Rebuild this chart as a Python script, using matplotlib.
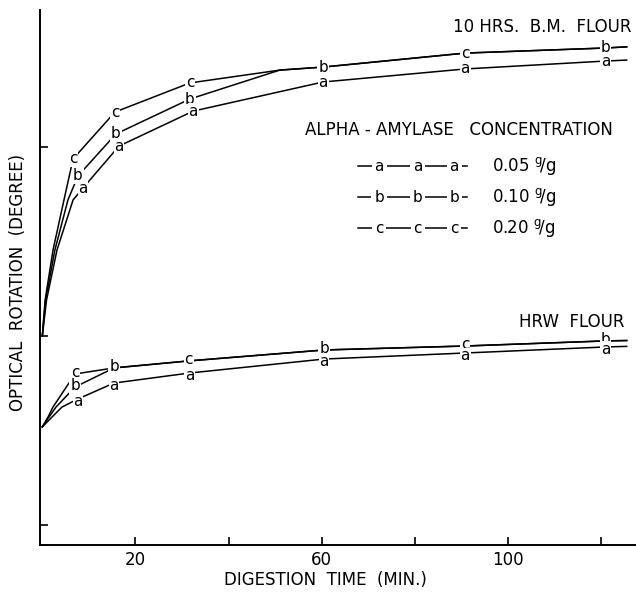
import matplotlib
matplotlib.use('Agg')
import matplotlib.pyplot as plt

# digestion time (min) and optical rotation (arbitrary degree units)
# upper group: 10 HRS. B.M. FLOUR
bm_c_t = [0, 0.6, 2.3, 4.65, 6.6, 15.6, 31.7, 51, 60.3, 90.8, 121, 125.5]
bm_c_y = [1.0, 1.19, 1.455, 1.72, 1.937, 2.185, 2.339, 2.407, 2.423, 2.497, 2.524, 2.53]
bm_c_lab = ['', '', '', '', 'c', 'c', 'c', '', '', 'c', '', '']

bm_b_t = [0, 0.7, 2.7, 5.5, 7.66, 15.8, 31.7, 51, 60.3, 90.8, 121, 125.5]
bm_b_y = [1.0, 1.19, 1.455, 1.72, 1.847, 2.069, 2.254, 2.407, 2.423, 2.497, 2.524, 2.53]
bm_b_lab = ['', '', '', '', 'b', 'b', 'b', '', 'b', '', 'b', '']

bm_a_t = [0, 0.9, 3.15, 6.6, 8.74, 16.47, 32.4, 60.3, 90.8, 121, 125.5]
bm_a_y = [1.0, 1.19, 1.455, 1.72, 1.783, 2.005, 2.190, 2.344, 2.413, 2.455, 2.46]
bm_a_lab = ['', '', '', '', 'a', 'a', 'a', 'a', 'a', 'a', '']

# lower group: HRW FLOUR
hrw_c_t = [0, 1.22, 2.29, 7.02, 15.4, 31.4, 60.5, 90.8, 121, 125.5]
hrw_c_y = [0.519, 0.571, 0.624, 0.799, 0.831, 0.868, 0.926, 0.947, 0.974, 0.976]
hrw_c_lab = ['', '', '', 'c', '', 'c', '', 'c', '', '']

hrw_b_t = [0, 1.43, 2.94, 7.02, 15.4, 31.4, 60.5, 90.8, 121, 125.5]
hrw_b_y = [0.519, 0.571, 0.624, 0.730, 0.831, 0.868, 0.926, 0.947, 0.974, 0.976]
hrw_b_lab = ['', '', '', 'b', 'b', '', 'b', '', 'b', '']

hrw_a_t = [0, 2.08, 4.22, 7.66, 15.4, 31.6, 60.5, 90.8, 121, 125.5]
hrw_a_y = [0.519, 0.571, 0.624, 0.667, 0.751, 0.804, 0.878, 0.910, 0.942, 0.945]
hrw_a_lab = ['', '', '', 'a', 'a', 'a', 'a', 'a', 'a', '']

x_ticks = [20, 40, 60, 80, 100, 120]
x_tick_labels = ['20', '', '60', '', '100', '']
y_ticks = [0, 1, 2]

concentrations = ['0.05', '0.10', '0.20']
legend_letters = ['a', 'b', 'c']

fig = plt.figure(figsize=(6.36, 5.95), dpi=100)
ax = fig.add_axes([40 / 636, 1 - 545 / 595, 596 / 636, 535 / 595])

letter_box = dict(facecolor='white', edgecolor='none', pad=0.6)

def draw_series(t, y, labels, dy=0):
    ax.plot(t, y, color='black', lw=1.1, zorder=2)
    for ti, yi, lab in zip(t, y, labels):
        if lab:
            ax.annotate(lab, (ti, yi), xytext=(0, dy), textcoords='offset points',
                        ha='center', va='center', fontsize=11,
                        bbox=letter_box, zorder=3)

draw_series(bm_c_t, bm_c_y, bm_c_lab)
draw_series(bm_b_t, bm_b_y, bm_b_lab)
draw_series(bm_a_t, bm_a_y, bm_a_lab)
draw_series(hrw_c_t, hrw_c_y, hrw_c_lab, dy=1)
draw_series(hrw_b_t, hrw_b_y, hrw_b_lab, dy=1)
draw_series(hrw_a_t, hrw_a_y, hrw_a_lab, dy=-2)

ax.set_xlim(-0.5, 127.5)
ax.set_ylim(-0.106, 2.725)
ax.set_xticks(x_ticks)
ax.set_xticklabels(x_tick_labels, fontsize=12)
ax.set_yticks(y_ticks)
ax.set_yticklabels([])
ax.tick_params(direction='in', length=6, width=1.2, pad=4)
for side in ['top', 'right']:
    ax.spines[side].set_visible(False)
for side in ['left', 'bottom']:
    ax.spines[side].set_linewidth(1.4)

fig.text(325 / 636, 1 - 580 / 595, 'DIGESTION  TIME  (MIN.)', fontsize=12,
         ha='center', va='center')
fig.text(18 / 636, 1 - 282 / 595, 'OPTICAL  ROTATION  (DEGREE)', fontsize=12,
         ha='center', va='center', rotation=90)

# group labels
ax.text(0.992, 0.968, '10 HRS.  B.M.  FLOUR', transform=ax.transAxes,
        ha='right', va='center', fontsize=12)
ax.text(0.98, 0.416, 'HRW  FLOUR', transform=ax.transAxes,
        ha='right', va='center', fontsize=12)

# legend block
ax.text(0.445, 0.776, 'ALPHA - AMYLASE   CONCENTRATION', transform=ax.transAxes,
        ha='left', va='center', fontsize=12)
row_y = [0.708, 0.650, 0.592]
for lt, conc, ry in zip(legend_letters, concentrations, row_y):
    ax.plot([0.533, 0.716], [ry, ry], color='black', lw=1.1,
            transform=ax.transAxes, zorder=2)
    for lx in [0.569, 0.634, 0.695]:
        ax.text(lx, ry, lt, transform=ax.transAxes, ha='center', va='center',
                fontsize=11, bbox=dict(facecolor='white', edgecolor='none', pad=2),
                zorder=3)
    ax.text(0.758, ry, conc + r' $^{\mathrm{g}}\!/\mathrm{g}$', transform=ax.transAxes,
            ha='left', va='center', fontsize=12)

fig.savefig('out.png', dpi=100)
